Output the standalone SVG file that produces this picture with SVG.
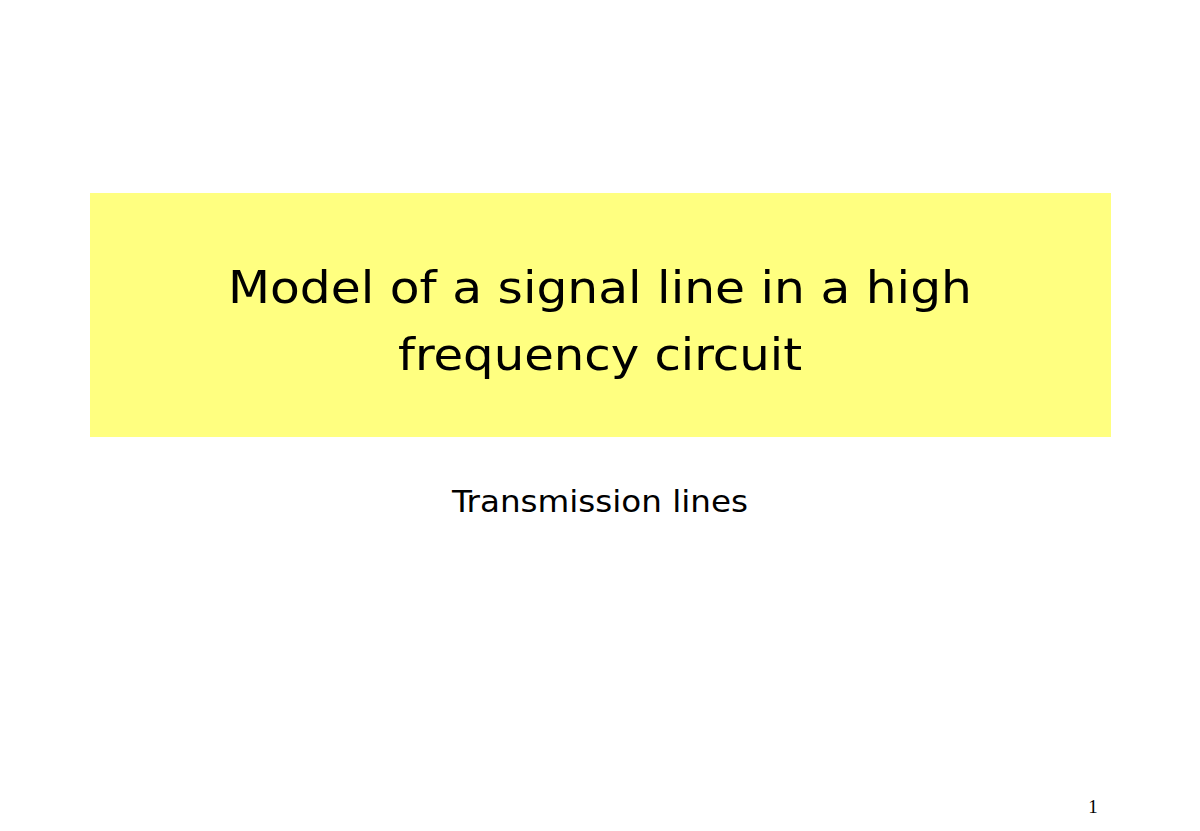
<svg xmlns="http://www.w3.org/2000/svg" width="1200" height="831" viewBox="0 0 1200 831">
<style>
.t{font-family:"DejaVu Sans Condensed","Liberation Sans",sans-serif;fill:#000;text-anchor:middle}
</style>
<rect width="1200" height="831" fill="#fff"/>
<g id="title">
<rect x="90" y="193" width="1021" height="244" fill="#FFFF80"/>
<text class="t" x="600" y="303" font-size="45" textLength="744" lengthAdjust="spacingAndGlyphs">Model of a signal line in a high</text>
<text class="t" x="600" y="370" font-size="45" textLength="404" lengthAdjust="spacingAndGlyphs">frequency circuit</text>
</g>
<g id="subtitle">
<text class="t" x="600" y="512" font-size="30" textLength="296" lengthAdjust="spacingAndGlyphs">Transmission lines</text>
</g>
<g id="page">
<text x="1093" y="813" font-family="Liberation Serif,serif" font-size="19" text-anchor="middle">1</text>
</g>
</svg>
